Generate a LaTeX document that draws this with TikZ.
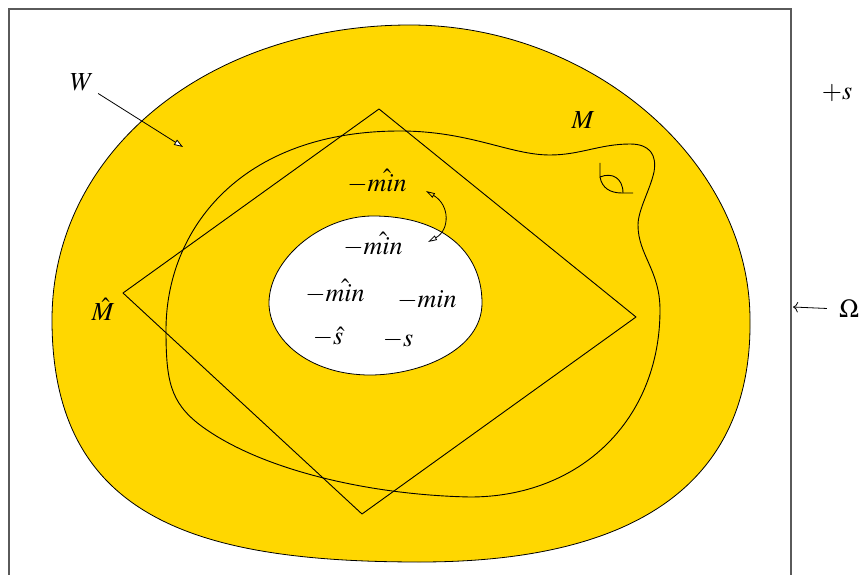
\documentclass[tikz,border=0pt]{standalone}
\usepackage{mathptmx}
\usetikzlibrary{arrows.meta}
\definecolor{blobyellow}{RGB}{255,215,0}
\definecolor{framegray}{RGB}{90,90,90}
\begin{document}
\begin{tikzpicture}[x=1pt,y=-1pt,
  lbl/.style={inner sep=0pt, font=\fontsize{26}{30}\selectfont},
  thinline/.style={line width=0.9pt, line join=round},
  frameline/.style={draw=framegray, line width=1.3pt}]
\useasboundingbox (0,0) rectangle (865,575);
% frame
\draw[frameline] (9,575) -- (9,9) -- (791,9) -- (791,575);
% outer region W
\filldraw[fill=blobyellow, draw=black, line width=0.8pt]
  (410,25) .. controls (590,25) and (750,160) .. (750,320)
           .. controls (752,480) and (640,562) .. (420,562)
           .. controls (200,562) and (52,520) .. (52,320)
           .. controls (52,150) and (210,25) .. (410,25) -- cycle;
% inner hole
\filldraw[fill=white, draw=black, line width=0.8pt]
  (373,216) .. controls (440,216) and (482,250) .. (482,303)
            .. controls (482,350) and (420,375) .. (370,375)
            .. controls (310,375) and (269,340) .. (269,303)
            .. controls (269,260) and (320,216) .. (373,216) -- cycle;
% diamond M-hat
\draw[thinline] (379,109) -- (636,317) -- (362,514) -- (123,293) -- cycle;
% curve M
\draw[thinline]
  (166,330) .. controls (166,230) and (240,131) .. (400,131)
            .. controls (470,131) and (510,155) .. (550,155)
            .. controls (580,155) and (600,144) .. (630,144)
            .. controls (650,144) and (657,155) .. (654,172)
            .. controls (650,190) and (638,210) .. (638,225)
            .. controls (638,255) and (660,270) .. (660,310)
            .. controls (660,420) and (580,497) .. (470,497)
            .. controls (370,495) and (260,470) .. (200,425)
            .. controls (170,402) and (166,380) .. (166,330) -- cycle;
% small cusp
\draw[thinline] (600,163) -- (600,177) .. controls (612,172) and (623,178) .. (623,193);
\draw[thinline] (600,177) .. controls (602,188) and (610,193) .. (622,193) -- (633,193);
% labels
\node[lbl] (W) at (82,82) {$W$};
\node[lbl] (M) at (583,120) {$M$};
\node[lbl] (Mh) at (103,309) {$\hat{M}$};
\node[lbl] (ps) at (837,93) {$+s$};
\node[lbl] (Om) at (849,309) {$\Omega$};
\node[lbl] (t1) at (377,181) {$-\hat{min}$};
\node[lbl] (t2) at (373,244) {$-\hat{min}$};
\node[lbl] (t3) at (335,291) {$-\hat{min}$};
\node[lbl] (t4) at (427,300) {$-min$};
\node[lbl] (t5) at (328,337) {$-\hat{s}$};
\node[lbl] (t6) at (398,340) {$-s$};
% arrows
\coordinate (Wtip) at (183,147);
\draw[line width=0.8pt, shorten <=5pt, -{Triangle[fill=white,length=9pt,width=6pt]}] (W.south east) -- (Wtip);
\coordinate (Otip) at (793,307);
\draw[line width=0.8pt, shorten <=12pt, -{To[length=5pt]}] (Om.west) -- (Otip);
\coordinate (da) at (426,191);
\coordinate (db) at (428,242);
\draw[line width=0.8pt, {Triangle[open,length=9pt,width=5pt]}-{Triangle[open,length=9pt,width=5pt]}]
  (da) .. controls (450,205) and (450,230) .. (db);
\end{tikzpicture}
\end{document}
